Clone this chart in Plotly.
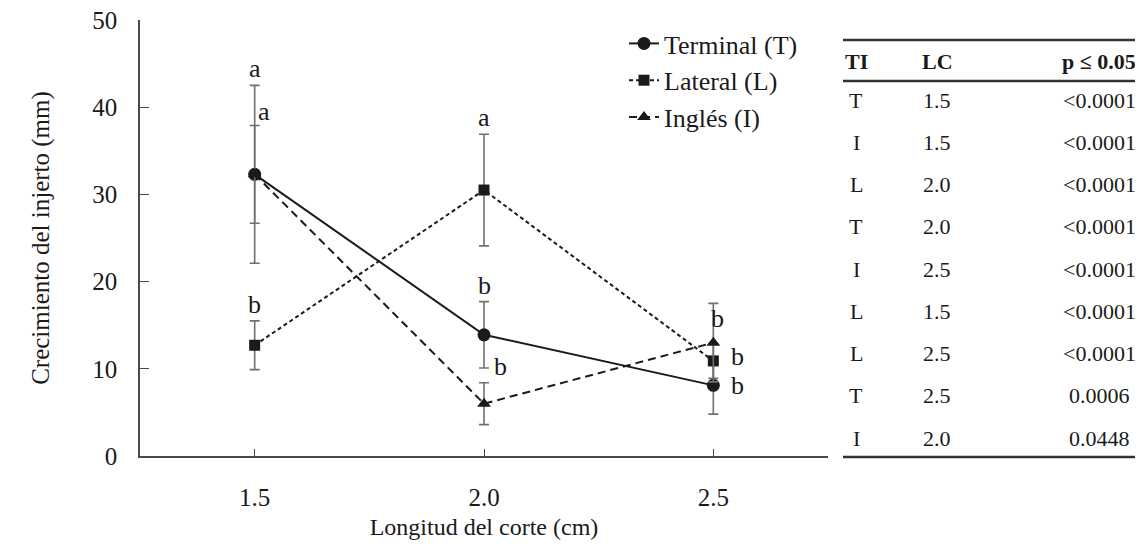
import plotly.graph_objects as go

# ---------------- data ----------------
longitud = [1.5, 2.0, 2.5]

terminal = [32.3, 13.9, 8.1]
terminal_err = [10.2, 3.8, 3.3]
terminal_letters = ["a", "b", "b"]

lateral = [12.7, 30.5, 10.9]
lateral_err = [2.8, 6.4, 2.0]
lateral_letters = ["b", "a", "b"]

ingles = [32.3, 6.0, 13.0]
ingles_err = [5.6, 2.4, 4.5]
ingles_letters = ["a", "b", "b"]

series_names = ["Terminal (T)", "Lateral (L)", "Inglés (I)"]

table_header = ["TI", "LC", "p ≤ 0.05"]
table_ti = ["T", "I", "L", "T", "I", "L", "L", "T", "I"]
table_lc = ["1.5", "1.5", "2.0", "2.0", "2.5", "1.5", "2.5", "2.5", "2.0"]
table_p = ["<0.0001", "<0.0001", "<0.0001", "<0.0001", "<0.0001",
           "<0.0001", "<0.0001", "0.0006", "0.0448"]

# ---------------- layout constants ----------------
OFF = 8                      # page body margin of the html page
W, H = 1143 - OFF, 546 - OFF
ML, MT = 140 - OFF, 20 - OFF
PLOT_R, PLOT_B = 828 - OFF, 456 - OFF
MR, MB = W - PLOT_R, H - PLOT_B
PW = W - ML - MR
PH = H - MT - MB
FONT = "Liberation Serif, Times New Roman, serif"
INK = "#1a1a1a"
AXC = "#4a4a4a"


def px_x(px):
    """reference-picture x pixel -> paper coordinate"""
    return (px - OFF - ML) / PW


def px_y(py):
    """reference-picture y pixel -> paper coordinate"""
    return (PLOT_B - (py - OFF)) / PH


fig = go.Figure()

styles = [
    dict(dash="solid", symbol="circle", size=13),
    dict(dash="4px,3px", symbol="square", size=11),
    dict(dash="8px,5px", symbol="triangle-up", size=12),
]
vals = [terminal, lateral, ingles]
errs = [terminal_err, lateral_err, ingles_err]

for name, v, e, st in zip(series_names, vals, errs, styles):
    fig.add_trace(go.Scatter(
        x=longitud, y=v, name=name, mode="lines+markers",
        line=dict(color=INK, width=2, dash=st["dash"]),
        marker=dict(symbol=st["symbol"], size=st["size"], color=INK),
        error_y=dict(type="data", array=e, visible=True,
                     color="#707070", thickness=1.6, width=5),
    ))

# significance letters: (mode, dx px, dy units)
letter_place = [
    [("up", 0, 0), ("up", 0, 0), ("mid", 24, 0.0)],
    [("up", 0, 0), ("up", 0, 0), ("mid", 24, 0.5)],
    [("up", 9, -0.3), ("up", 16, 0), ("mid", 4, 2.8)],
]
letters = [terminal_letters, lateral_letters, ingles_letters]
for v, e, lets, places in zip(vals, errs, letters, letter_place):
    for xi, vi, ei, lt, (mode, dx, dy) in zip(longitud, v, e, lets, places):
        if mode == "up":
            fig.add_annotation(x=xi, y=vi + ei + dy, text=lt, showarrow=False,
                               xanchor="center", yanchor="bottom", xshift=dx,
                               font=dict(family=FONT, size=26, color=INK))
        else:
            fig.add_annotation(x=xi, y=vi + dy, text=lt, showarrow=False,
                               xanchor="center", yanchor="middle", xshift=dx,
                               font=dict(family=FONT, size=26, color=INK))

# ---------------- table ----------------
col_x = [856, 937, 1099]
header_y = 62
row0 = 100
row_step = 42.25
for cx, txt in zip(col_x, table_header):
    fig.add_annotation(xref="paper", yref="paper", x=px_x(cx), y=px_y(header_y),
                       text="<b>" + txt + "</b>", showarrow=False,
                       xanchor="center", yanchor="middle",
                       font=dict(family=FONT, size=22, color=INK))
for i, (a, b, c) in enumerate(zip(table_ti, table_lc, table_p)):
    yy = px_y(row0 + i * row_step)
    for cx, txt in zip(col_x, (a, b, c)):
        fig.add_annotation(xref="paper", yref="paper", x=px_x(cx), y=yy,
                           text=txt, showarrow=False,
                           xanchor="center", yanchor="middle",
                           font=dict(family=FONT, size=22, color=INK))
for ry in (40, 81, 457):
    fig.add_shape(type="line", xref="paper", yref="paper",
                  x0=px_x(843), x1=px_x(1141), y0=px_y(ry), y1=px_y(ry),
                  line=dict(color="#333333", width=2.5))

fig.update_layout(
    width=W, height=H,
    margin=dict(l=ML, r=MR, t=MT, b=MB, autoexpand=False),
    paper_bgcolor="white", plot_bgcolor="white",
    font=dict(family=FONT, color=INK, size=25),
    showlegend=True,
    legend=dict(x=px_x(624), y=1.0, xanchor="left", yanchor="top",
                bgcolor="rgba(0,0,0,0)", font=dict(family=FONT, size=26, color=INK),
                itemwidth=30, tracegroupgap=0),
)
fig.update_xaxes(
    range=[1.25, 2.75], tickvals=longitud, ticktext=["1.5", "2.0", "2.5"],
    showline=True, linecolor=AXC, linewidth=1.5, showgrid=False, zeroline=False,
    ticks="inside", ticklen=7, tickcolor=AXC, ticklabelstandoff=18,
    automargin=False,
    tickfont=dict(family=FONT, size=25, color=INK),
    title=dict(text="Longitud del corte (cm)", standoff=8,
               font=dict(family=FONT, size=24, color=INK)),
)
fig.update_yaxes(
    range=[0, 50], dtick=10,
    showline=True, linecolor=AXC, linewidth=1.5, showgrid=False, zeroline=False,
    ticks="inside", ticklen=9, tickcolor=AXC, ticklabelstandoff=16,
    ticklabeloverflow="allow", automargin=False,
    tickfont=dict(family=FONT, size=25, color=INK),
    title=dict(text="Crecimiento del injerto (mm)", standoff=36,
               font=dict(family=FONT, size=25, color=INK)),
)

fig.write_html("out.html")
